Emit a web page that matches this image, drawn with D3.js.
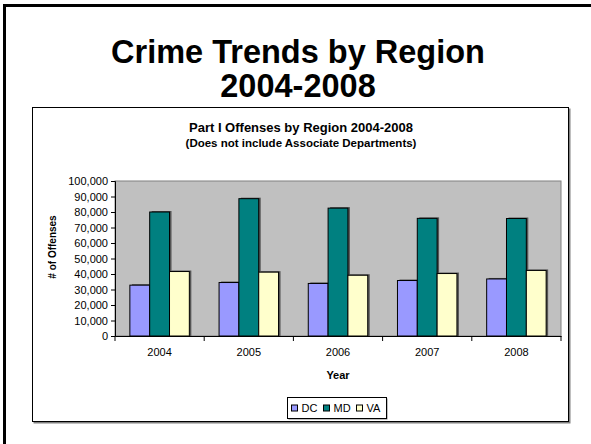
<!DOCTYPE html>
<html>
<head>
<meta charset="utf-8">
<script src="https://cdn.jsdelivr.net/npm/d3@7"></script>
<style>
html,body{margin:0;padding:0;background:#fff;}
svg{display:block;font-family:Arial,"Liberation Sans",sans-serif;}
</style>
</head>
<body>
<svg id="chart" width="591" height="444"></svg>
<script>
const years = ["2004","2005","2006","2007","2008"];
const seriesNames = ["DC","MD","VA"];
const dcValues = [32800, 34500, 33900, 35800, 36800];
const mdValues = [80000, 88600, 82500, 75900, 75800];
const vaValues = [41600, 41200, 39200, 40300, 42300];
const seriesColors = ["#9999FF","#008080","#FFFFCC"];
const yTicks = [0,10000,20000,30000,40000,50000,60000,70000,80000,90000,100000];

const seriesValues = [dcValues, mdValues, vaValues];
const data = years.map((y,i)=>({year:y, values: seriesNames.map((s,j)=>({series:s, value:seriesValues[j][i], color:seriesColors[j]}))}));

const svg = d3.select("#chart");

// outer slide frame
svg.append("rect").attr("x",4.5).attr("y",5.5).attr("width",700).attr("height",600)
  .attr("fill","none").attr("stroke","#000").attr("stroke-width",3);

// slide title
const title = svg.append("text").attr("text-anchor","middle").attr("font-weight","bold")
  .attr("font-size",32.5).attr("fill","#000");
title.append("tspan").attr("x",298).attr("y",63).text("Crime Trends by Region");
title.append("tspan").attr("x",298).attr("y",97).text("2004-2008");

// chart box with shadow
svg.append("rect").attr("x",33.5).attr("y",108.5).attr("width",537).attr("height",315)
  .attr("fill","#808080");
svg.append("rect").attr("x",32.5).attr("y",107.5).attr("width",536).attr("height",314)
  .attr("fill","#fff").attr("stroke","#000").attr("stroke-width",1);

// chart title
svg.append("text").attr("x",301).attr("y",131.5).attr("text-anchor","middle")
  .attr("font-weight","bold").attr("font-size",13).text("Part I Offenses by Region 2004-2008");
svg.append("text").attr("x",301).attr("y",146.5).attr("text-anchor","middle")
  .attr("font-weight","bold").attr("font-size",11.5).text("(Does not include Associate Departments)");

const plot = {left:115, right:561, top:181, bottom:336};
const x = d3.scaleBand().domain(years).range([plot.left, plot.right]).paddingInner(0).paddingOuter(0);
const y = d3.scaleLinear().domain([0,100000]).range([plot.bottom, plot.top]);

// plot background
svg.append("rect").attr("x",plot.left).attr("y",plot.top).attr("width",plot.right-plot.left)
  .attr("height",plot.bottom-plot.top).attr("fill","#C0C0C0").attr("stroke","#808080").attr("stroke-width",1);

const barW = x.bandwidth()/ (3 + 1.5); // gap width 150%
const inner = d3.scaleBand().domain(seriesNames).range([0, barW*3]);

const groups = svg.append("g").selectAll("g").data(data).join("g")
  .attr("transform", d=>`translate(${x(d.year) + (x.bandwidth()-barW*3)/2},0)`);

// shadows
groups.selectAll("rect.sh").data(d=>d.values).join("rect").attr("class","sh")
  .attr("x", d=>inner(d.series)+2).attr("y", d=>y(d.value)-1)
  .attr("width", barW).attr("height", d=>plot.bottom - y(d.value)+1)
  .attr("fill","#555");
groups.selectAll("rect.bar").data(d=>d.values).join("rect").attr("class","bar")
  .attr("x", d=>inner(d.series)).attr("y", d=>y(d.value))
  .attr("width", barW).attr("height", d=>plot.bottom - y(d.value))
  .attr("fill", d=>d.color).attr("stroke","#000").attr("stroke-width",1);

// y axis
const yAxis = d3.axisLeft(y).tickValues(yTicks).tickSize(4).tickPadding(3)
  .tickFormat(d3.format(","));
const gy = svg.append("g").attr("transform",`translate(${plot.left},0)`).call(yAxis);
gy.select(".domain").attr("stroke","#000");
gy.selectAll(".tick line").attr("stroke","#000");
gy.selectAll("text").attr("font-size",11).attr("font-family","Arial,'Liberation Sans',sans-serif").attr("fill","#000");

// x axis
const xAxis = d3.axisBottom(x).tickSize(0).tickPadding(12);
const gx = svg.append("g").attr("transform",`translate(0,${plot.bottom})`).call(xAxis);
gx.select(".domain").attr("stroke","#000");
gx.selectAll("text").attr("font-size",11).attr("font-family","Arial,'Liberation Sans',sans-serif").attr("fill","#000");
// band boundary ticks
const bounds = years.map(yr=>x(yr)).concat([plot.right]);
svg.append("g").selectAll("line").data(bounds).join("line")
  .attr("x1",d=>d).attr("x2",d=>d).attr("y1",plot.bottom).attr("y2",plot.bottom+5)
  .attr("stroke","#000");

// axis titles
svg.append("text").attr("x",338).attr("y",379).attr("text-anchor","middle")
  .attr("font-weight","bold").attr("font-size",11).text("Year");
svg.append("text").attr("transform","translate(56,247) rotate(-90)").attr("text-anchor","middle")
  .attr("font-weight","bold").attr("font-size",10).text("# of Offenses");

// legend
const lg = svg.append("g");
lg.append("rect").attr("x",288.5).attr("y",398.5).attr("width",99).attr("height",21).attr("fill","#808080");
lg.append("rect").attr("x",287.5).attr("y",397.5).attr("width",99).attr("height",21)
  .attr("fill","#fff").attr("stroke","#000");
const legendX = [291.5, 323.5, 356.5];
const items = lg.selectAll("g.item").data(seriesNames).join("g").attr("class","item")
  .attr("transform",(d,i)=>`translate(${legendX[i]},0)`);
items.append("rect").attr("x",0).attr("y",405).attr("width",6).attr("height",6)
  .attr("fill",(d,i)=>seriesColors[i]).attr("stroke","#000");
items.append("text").attr("x",10).attr("y",412).attr("font-size",11).text(d=>d);
</script>
</body>
</html>
